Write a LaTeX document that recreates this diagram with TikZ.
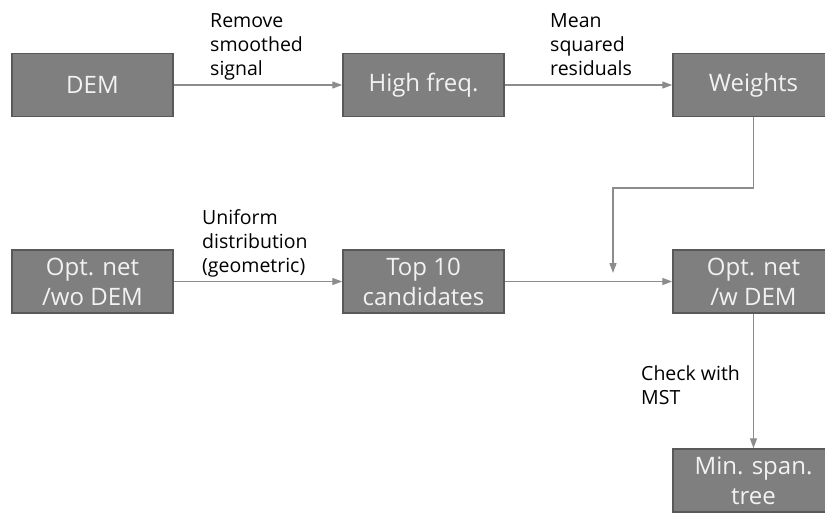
\documentclass[tikz,border=0pt]{standalone}
\usepackage{fontspec}
\setmainfont{Open Sans}
\usetikzlibrary{arrows.meta}
\definecolor{boxfill}{HTML}{7F7F7F}
\definecolor{boxline}{HTML}{595959}
\definecolor{arr}{HTML}{8C8C8C}
\definecolor{boxtext}{HTML}{F2F2F2}
\begin{document}
\begin{tikzpicture}[x=1pt,y=-1pt,
 box/.style={draw=boxline,fill=boxfill,line width=1.5pt,minimum width=161pt,minimum height=63pt,inner sep=0pt,align=center,text=boxtext,font=\fontsize{24}{30}\selectfont},
 lbl/.style={anchor=north west,inner sep=0pt,align=left,font=\fontsize{19.5}{24}\selectfont},
 conn/.style={draw=arr,line width=1.3pt,-{Triangle[length=10pt,width=7pt]}}]
\useasboundingbox (0,0) rectangle (825,512);
\clip (0,0) rectangle (825,512);
\node[box] (dem) at (92.5,85) {DEM};
\node[box] (hf) at (423.5,85) {High freq.};
\node[box] (w) at (753.5,85) {Weights};
\node[box] (on1) at (92.5,281.5) {Opt. net\\/wo DEM};
\node[box] (t10) at (423.5,281.5) {Top 10\\candidates};
\node[box] (on2) at (753.5,281.5) {Opt. net\\/w DEM};
\node[box] (mst) at (753.5,480.5) {Min. span.\\tree};
\coordinate (wturn) at (613,188);
\coordinate (wend) at (613,273);
\draw[conn] (dem) -- (hf);
\draw[conn] (hf) -- (w);
\draw[conn] (on1) -- (t10);
\draw[conn] (t10) -- (on2);
\draw[conn] (w.south) |- (wturn) -- (wend);
\draw[conn] (on2) -- (mst);
\node[lbl] (l1) at (210,13) {Remove\\smoothed\\signal};
\node[lbl] (l2) at (550,13) {Mean\\squared\\residuals};
\node[lbl] (l3) at (202,209) {Uniform\\distribution\\(geometric)};
\node[lbl] (l4) at (641,365) {Check with\\MST};
\end{tikzpicture}
\end{document}
